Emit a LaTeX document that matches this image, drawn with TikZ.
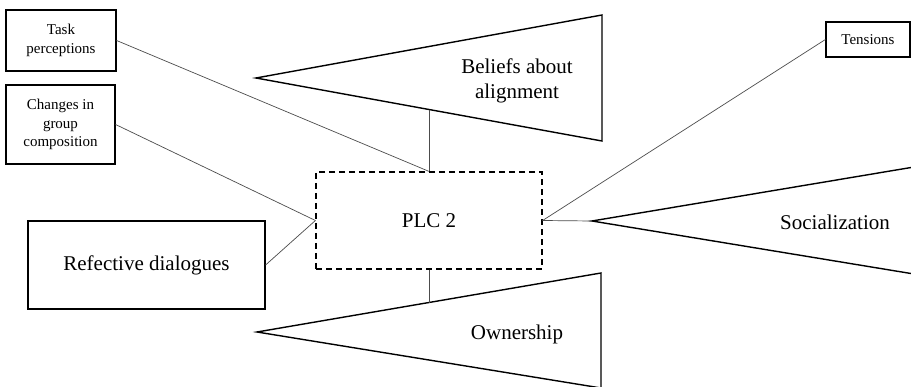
\documentclass[tikz,border=0pt]{standalone}
\usepackage{fontspec}
\setmainfont{Liberation Serif}
\begin{document}
\begin{tikzpicture}[x=1pt,y=-1pt,
  box/.style={draw=black,line width=1.2pt,fill=white,inner sep=0pt,align=center},
  smalltxt/.style={font=\fontsize{15}{18.5}\selectfont},
  bigtxt/.style={font=\fontsize{21}{25}\selectfont},
  link/.style={draw=black!70,line width=0.7pt},
  tri/.style={draw=black,line width=1.4pt,line join=miter}]
\useasboundingbox (0,0) rectangle (911,387);
\fill[white] (0,0) rectangle (911,387);
% triangles
\coordinate (btip) at (256,78);
\coordinate (btop) at (602,15);
\coordinate (bbot) at (602,141);
\draw[tri] (btip) -- (btop) -- (bbot) -- cycle;
\coordinate (otip) at (257,332);
\coordinate (otop) at (601,273);
\coordinate (obot) at (601,388);
\draw[tri] (otip) -- (otop) -- (obot) -- cycle;
\coordinate (stip) at (592,221);
\coordinate (stop) at (920,166);
\coordinate (sbot) at (920,275);
\draw[tri] (stop) -- (stip) -- (sbot);
\node[bigtxt,align=center] (beliefs) at (517,81) {Beliefs about\\alignment};
\node[bigtxt] (own) at (517,334) {Ownership};
\node[bigtxt] (soc) at (835,222) {Socialization};
% boxes
\node[box,smalltxt,minimum width=110pt,minimum height=61pt] (task) at (61,40.5) {Task\\perceptions};
\node[box,smalltxt,minimum width=109pt,minimum height=79pt] (chg) at (60.5,124.5) {Changes in\\group\\composition};
\node[box,bigtxt,minimum width=237pt,minimum height=88pt] (refl) at (146.5,265) {Refective dialogues};
\node[box,bigtxt,dash pattern=on 6pt off 4pt,minimum width=226pt,minimum height=97pt] (plc) at (429,220.5) {PLC 2};
\node[box,smalltxt,minimum width=84pt,minimum height=35pt] (ten) at (868,39.5) {Tensions};
% connectors
\coordinate (bedge) at (429,110);
\coordinate (oedge) at (429,303);
\draw[link] (task.east) -- (plc.north);
\draw[link] (bedge) -- (plc.north);
\draw[link] (chg.east) -- (plc.west);
\draw[link] (refl.east) -- (plc.west);
\draw[link] (ten.west) -- (plc.east);
\draw[link] (plc.east) -- (stip);
\draw[link] (plc.south) -- (oedge);
\end{tikzpicture}
\end{document}
